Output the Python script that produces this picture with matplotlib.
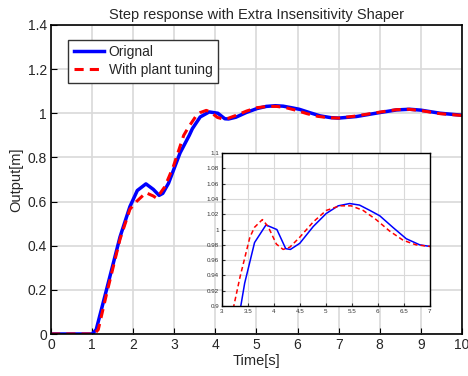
import matplotlib
matplotlib.use("Agg")
import matplotlib.pyplot as plt

plt.rcParams['font.family'] = ['Liberation Sans', 'DejaVu Sans']
plt.rcParams['text.color'] = '#262626'
plt.rcParams['axes.labelcolor'] = '#262626'

t_orig = [0, 1.0, 1.1, 1.35, 1.68, 1.92, 2.1, 2.31, 2.49, 2.63, 2.72, 2.86, 3.14, 3.365, 3.44,
          3.63, 3.85, 4.06, 4.23, 4.32, 4.5, 4.76, 5.01, 5.24, 5.46, 5.65, 5.85, 6.04, 6.29,
          6.55, 6.81, 7.0, 7.43, 8.0, 8.41, 8.73, 9.0, 9.47, 10.0]
y_orig = [0, 0, 0.02, 0.2, 0.44, 0.577, 0.65, 0.68, 0.655, 0.628, 0.637, 0.683, 0.82, 0.9, 0.93,
          0.983, 1.006, 1.0, 0.975, 0.974, 0.982, 1.004, 1.021, 1.031, 1.034, 1.032, 1.025, 1.018, 1.003,
          0.988, 0.98, 0.978, 0.985, 1.003, 1.015, 1.018, 1.014, 1.0, 0.991]

t_tune = [0, 1.05, 1.15, 1.35, 1.68, 1.92, 2.08, 2.31, 2.49, 2.57, 2.77, 2.98, 3.23, 3.35, 3.54,
          3.63, 3.78, 3.89, 4.05, 4.18, 4.31, 4.5, 4.76, 5.01, 5.27, 5.49, 5.72, 5.97, 6.23,
          6.49, 6.74, 7.0, 7.4, 8.0, 8.4, 8.7, 9.0, 9.47, 10.0]
y_tune = [0, 0, 0.02, 0.18, 0.43, 0.565, 0.6, 0.64, 0.625, 0.615, 0.667, 0.76, 0.9, 0.938, 0.99,
          1.003, 1.013, 1.004, 0.981, 0.974, 0.977, 0.99, 1.01, 1.025, 1.031, 1.031, 1.025, 1.013, 0.998,
          0.986, 0.98, 0.978, 0.987, 1.005, 1.016, 1.018, 1.012, 0.998, 0.99]

fig = plt.figure(figsize=(4.68, 3.76), dpi=100)
ax = fig.add_axes([0.109, 0.1117, 0.878, 0.822])
ax.plot(t_orig, y_orig, color='blue', lw=2.5, label='Orignal')
ax.plot(t_tune, y_tune, color='red', lw=2.2, ls=(0, (3, 2)), label='With plant tuning')
ax.set_xlim(0, 10)
ax.set_ylim(0, 1.4)
ax.set_xticks(range(0, 11))
ax.set_yticks([0, 0.2, 0.4, 0.6, 0.8, 1, 1.2, 1.4])
ax.set_yticklabels(['0', '0.2', '0.4', '0.6', '0.8', '1', '1.2', '1.4'])
ax.tick_params(labelsize=10, direction='in', length=4, pad=3, labelcolor='#262626')
ax.grid(True, color='#d9d9d9', lw=1.2)
ax.set_axisbelow(True)
ax.set_xlabel('Time[s]', fontsize=10.5, labelpad=1)
ax.set_ylabel('Output[m]', fontsize=10.5, labelpad=3)
ax.set_title('Step response with Extra Insensitivity Shaper', fontsize=10.5, pad=4)
for s in ax.spines.values():
    s.set_linewidth(1.2)
leg = ax.legend(loc='upper left', fontsize=10, fancybox=False, edgecolor='#333333',
                framealpha=1, handlelength=2.2, borderpad=0.4, labelspacing=0.3,
                handletextpad=0.3, bbox_to_anchor=(0.025, 0.975))

# zoomed view
ins = fig.add_axes([0.474, 0.186, 0.444, 0.407])
ins.plot(t_orig, y_orig, color='blue', lw=1.1)
ins.plot(t_tune, y_tune, color='red', lw=1.1, ls=(0, (3, 2)))
ins.set_xlim(3, 7)
ins.set_ylim(0.9, 1.1)
ins.set_xticks([3, 3.5, 4, 4.5, 5, 5.5, 6, 6.5, 7])
ins.set_xticklabels(['3', '3.5', '4', '4.5', '5', '5.5', '6', '6.5', '7'])
ins.set_yticks([0.9, 0.92, 0.94, 0.96, 0.98, 1, 1.02, 1.04, 1.06, 1.08, 1.1])
ins.set_yticklabels(['0.9', '0.92', '0.94', '0.96', '0.98', '1', '1.02', '1.04', '1.06', '1.08', '1.1'])
ins.tick_params(labelsize=4.5, direction='in', length=2, pad=2, colors='#333333')
ins.grid(True, color='#d9d9d9', lw=0.8)
ins.set_axisbelow(True)
for s in ins.spines.values():
    s.set_linewidth(1.0)

fig.savefig('out.png', dpi=100)
